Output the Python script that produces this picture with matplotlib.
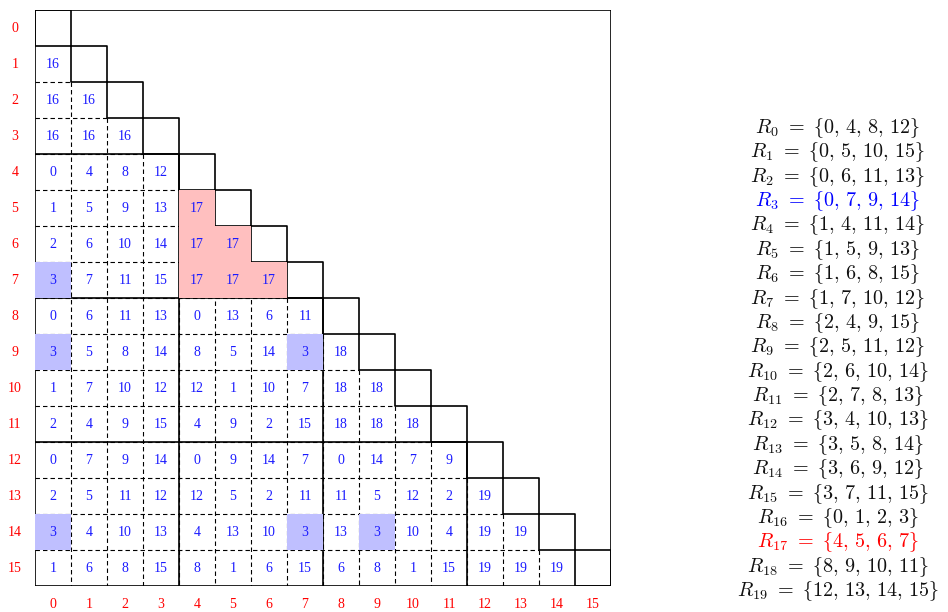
import matplotlib
matplotlib.use("Agg")
import matplotlib.pyplot as plt
from matplotlib.patches import Rectangle

plt.rcParams['mathtext.fontset'] = 'cm'
plt.rcParams['lines.scale_dashes'] = False

N = 16
# lower-triangular cell values, row i has columns 0..i-1
cells = [
    [],
    [16],
    [16, 16],
    [16, 16, 16],
    [0, 4, 8, 12],
    [1, 5, 9, 13, 17],
    [2, 6, 10, 14, 17, 17],
    [3, 7, 11, 15, 17, 17, 17],
    [0, 6, 11, 13, 0, 13, 6, 11],
    [3, 5, 8, 14, 8, 5, 14, 3, 18],
    [1, 7, 10, 12, 12, 1, 10, 7, 18, 18],
    [2, 4, 9, 15, 4, 9, 2, 15, 18, 18, 18],
    [0, 7, 9, 14, 0, 9, 14, 7, 0, 14, 7, 9],
    [2, 5, 11, 12, 12, 5, 2, 11, 11, 5, 12, 2, 19],
    [3, 4, 10, 13, 4, 13, 10, 3, 13, 3, 10, 4, 19, 19],
    [1, 6, 8, 15, 8, 1, 6, 15, 6, 8, 1, 15, 19, 19, 19],
]
blue_value = 3
pink_value = 17
blocks = [4, 8, 12]

set_names = list(range(20))
sets = [
    [0, 4, 8, 12], [0, 5, 10, 15], [0, 6, 11, 13], [0, 7, 9, 14],
    [1, 4, 11, 14], [1, 5, 9, 13], [1, 6, 8, 15], [1, 7, 10, 12],
    [2, 4, 9, 15], [2, 5, 11, 12], [2, 6, 10, 14], [2, 7, 8, 13],
    [3, 4, 10, 13], [3, 5, 8, 14], [3, 6, 9, 12], [3, 7, 11, 15],
    [0, 1, 2, 3], [4, 5, 6, 7], [8, 9, 10, 11], [12, 13, 14, 15],
]
set_colors = {3: 'blue', 17: 'red'}

W, H = 948, 612
fig = plt.figure(figsize=(W / 100, H / 100), dpi=100)
ax = fig.add_axes([35 / W, (H - 586) / H, 576 / W, 576 / H])
ax.set_xlim(0, N)
ax.set_ylim(N, 0)
ax.axis('off')

dash_kw = dict(color='black', lw=0.8, dashes=(3.2, 2.2), zorder=1)
solid_kw = dict(color='black', lw=1.2, zorder=2, solid_capstyle='projecting')

# dashed inner lines
for r in range(2, N):
    ax.plot([0, r - 1], [r, r], **dash_kw)
for c in range(1, N):
    ax.plot([c, c], [c + 1, N], **dash_kw)

# solid lines: outer box
ax.plot([0, N, N, 0, 0], [0, 0, N, N, 0], **solid_kw)
# diagonal boxes
for i in range(N):
    ax.plot([i, i + 1, i + 1, i, i], [i, i, i + 1, i + 1, i], **solid_kw)
# block boundaries
for b in blocks:
    ax.plot([0, b], [b, b], **solid_kw)
    ax.plot([b, b], [b, N], **solid_kw)

# fills and numbers
for i, row in enumerate(cells):
    for j, v in enumerate(row):
        if v == blue_value:
            ax.add_patch(Rectangle((j, i), 1, 1, facecolor='#bfbfff',
                                   edgecolor='none', zorder=3))
        if v == pink_value:
            ax.add_patch(Rectangle((j, i), 1, 1, facecolor='#ffbfbf',
                                   edgecolor='none', zorder=3))
        ax.text(j + 0.5, i + 0.5, str(v), ha='center', va='center',
                color='#1a1aff', fontsize=10, family='Liberation Serif',
                zorder=4)

# row / column labels
for k in range(N):
    ax.text(-0.56, k + 0.5, str(k), ha='center', va='center', color='red',
            fontsize=10, family='Liberation Serif', clip_on=False)
    ax.text(k + 0.5, 16.5, str(k), ha='center', va='center', color='red',
            fontsize=10, family='Liberation Serif', clip_on=False)

# set equations
y0, y1 = 128, 591
for k, (name, s) in enumerate(zip(set_names, sets)):
    y = y0 + (y1 - y0) * k / (len(sets) - 1)
    txt = r'$R_{%d}\ =\ \lbrace %s\rbrace$' % (name, r',\,'.join(str(x) for x in s))
    fig.text(838 / W, 1 - y / H, txt, ha='center', va='center',
             fontsize=14.5, color=set_colors.get(name, '#111111'))

fig.savefig('out.png', dpi=100)
